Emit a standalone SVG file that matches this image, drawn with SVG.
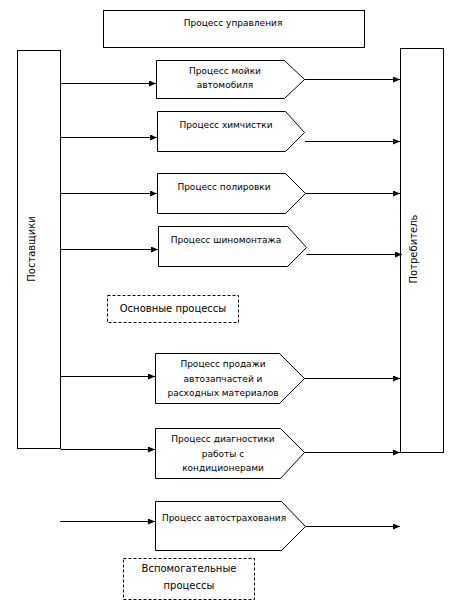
<svg xmlns="http://www.w3.org/2000/svg" width="466" height="612" viewBox="0 0 466 612">
<style>
.b{fill:#fff;stroke:#000;stroke-width:1}
.d{fill:#fff;stroke:#000;stroke-width:1;stroke-dasharray:3,2}
.t{font-family:"DejaVu Sans",Verdana,sans-serif;font-size:9px;fill:#000;text-anchor:middle}
.t2{font-family:"DejaVu Sans",Verdana,sans-serif;font-size:10px;fill:#000;text-anchor:middle}
.c{stroke:#000;stroke-width:1;fill:none;marker-end:url(#a)}
</style>
<defs>
<marker id="a" markerWidth="7" markerHeight="6" refX="7" refY="3" orient="auto" markerUnits="userSpaceOnUse">
<path d="M0,0 L7,3 L0,6 Z" fill="#000"/>
</marker>
</defs>
<rect width="466" height="612" fill="#fff"/>
<g id="upravlenie"><rect class="b" x="103.5" y="10.5" width="261" height="37"/><text class="t" x="233" y="26">Процесс управления</text></g>
<g id="postavshiki"><rect class="b" x="17.5" y="50.5" width="43" height="398"/><text class="t2" transform="translate(35,249) rotate(-90)">Поставщики</text></g>
<g id="potrebitel"><rect class="b" x="400.5" y="48.5" width="43" height="404"/><text class="t2" transform="translate(417,249) rotate(-90)">Потребитель</text></g>
<g id="p1"><path class="b" d="M156.5,60.5 H284.5 L304.5,79.5 L284.5,98.5 H156.5 Z"/><text class="t" x="225" y="74">Процесс мойки</text><text class="t" x="225" y="88">автомобиля</text></g>
<g id="p2"><path class="b" d="M157.5,111.5 H285.5 L304.5,132.5 L285.5,151.5 H157.5 Z"/><text class="t" x="226" y="128">Процесс химчистки</text></g>
<g id="p3"><path class="b" d="M157.5,173.5 H285.5 L305.5,193.5 L285.5,213.5 H157.5 Z"/><text class="t" x="224" y="190">Процесс полировки</text></g>
<g id="p4"><path class="b" d="M158.5,226.5 H287.5 L306.5,247.5 L287.5,266.5 H158.5 Z"/><text class="t" x="226" y="243">Процесс шиномонтажа</text></g>
<g id="osnovnye"><rect class="d" x="107.5" y="295.5" width="131" height="27"/><text class="t2" x="173" y="312">Основные процессы</text></g>
<g id="p5"><path class="b" d="M155.5,353.5 H279.5 L304.5,378.5 L279.5,403.5 H155.5 Z"/><text class="t" x="223" y="367">Процесс продажи</text><text class="t" x="223" y="382">автозапчастей и</text><text class="t" x="223" y="396">расходных материалов</text></g>
<g id="p6"><path class="b" d="M155.5,428.5 H280.5 L304.5,452.5 L280.5,478.5 H155.5 Z"/><text class="t" x="223" y="442">Процесс диагностики</text><text class="t" x="223" y="457">работы с</text><text class="t" x="223" y="471">кондиционерами</text></g>
<g id="p7"><path class="b" d="M155.5,501.5 H281.5 L305.5,526.5 L281.5,550.5 H155.5 Z"/><text class="t" x="224" y="521">Процесс автострахования</text></g>
<g id="vspomogatelnye"><rect class="d" x="123.5" y="558.5" width="131" height="41"/><text class="t2" x="189" y="572">Вспомогательные</text><text class="t2" x="189" y="589">процессы</text></g>
<g id="connectors">
<path class="c" d="M60.5,83.5 H156"/>
<path class="c" d="M304.5,79.5 H400"/>
<path class="c" d="M60.5,137.5 H157"/>
<path class="c" d="M305,141.5 H400"/>
<path class="c" d="M60.5,193.5 H157"/>
<path class="c" d="M305.5,193.5 H400"/>
<path class="c" d="M60.5,249.5 H158"/>
<path class="c" d="M306.5,254.5 H402"/>
<path class="c" d="M60.5,376.5 H155"/>
<path class="c" d="M304.5,378.5 H400"/>
<path class="c" d="M60.5,449.5 H155"/>
<path class="c" d="M304.5,452.5 H400"/>
<path class="c" d="M60,521.5 H155"/>
<path class="c" d="M305.5,526.5 H400"/>
</g>
</svg>
